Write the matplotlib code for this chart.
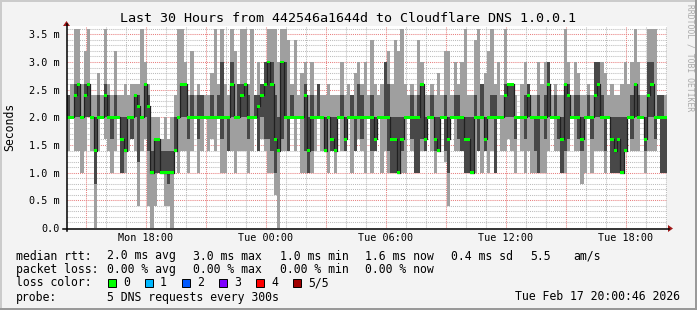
import matplotlib
matplotlib.use('Agg')
import matplotlib.pyplot as plt
import numpy as np
from matplotlib.lines import Line2D
from matplotlib.patches import Rectangle, Polygon

W, H = 697, 310
DPI = 100

# ---------------- data (milliseconds), 10-minute bins over the last 30 hours -------------
start_hour = 14.05          # hours since Mon 00:00 at left edge of plot
bin_hours = 1.0 / 6.0

ping1 = [1.4,2.0,1.4,1.4,1.0,1.4,2.0,1.4,0.0,1.4, 2.0,1.6,1.4,1.0,1.4,2.0,1.0,1.0,1.4,1.6,
         1.4,0.4,1.4,1.6,0.4,0.0,0.4,1.0,1.0,0.4, 0.4,0.0,1.4,1.0,1.4,1.4,1.0,1.4,2.0,1.0,
         1.4,2.0,1.4,1.6,1.4,2.0,1.0,1.0,1.4,1.4, 1.0,1.4,1.4,1.4,1.0,1.4,2.0,1.4,1.6,1.4,
         1.0,1.0,0.6,0.0,1.4,1.4,1.4,2.0,1.4,2.0, 1.0,1.0,1.0,1.0,1.4,2.0,1.4,1.4,1.0,1.4,
         1.0,2.0,1.4,1.4,2.0,1.0,1.4,1.6,1.4,1.0, 2.0,1.0,1.4,2.0,1.0,1.4,1.0,1.0,1.0,1.0,
         1.0,1.0,2.0,1.4,1.0,1.0,1.4,1.4,2.0,1.4, 1.0,1.4,2.0,1.2,0.4,2.0,1.4,1.4,1.4,1.0,
         1.0,1.0,1.0,1.4,1.0,1.4,1.0,1.4,1.0,2.0, 1.4,1.4,1.6,1.4,1.0,2.0,1.4,1.0,1.4,1.0,
         1.0,1.0,1.0,1.0,1.4,2.0,1.4,1.4,1.0,1.0, 1.4,2.0,1.4,1.4,0.8,1.0,2.0,1.0,1.4,1.4,
         1.4,1.0,2.0,1.0,1.0,1.0,1.0,1.4,2.0,1.4, 1.4,1.4,2.0,1.0,1.4,1.4,1.4,2.0,1.0,1.0]
ping2 = [2.0,2.0,2.0,2.0,2.0,2.0,2.0,2.0,0.8,2.0, 2.0,2.0,2.0,1.6,2.0,2.0,1.0,1.4,2.0,1.6,
         2.0,1.2,2.0,2.0,1.4,1.0,1.0,1.0,1.0,1.0, 0.8,1.0,1.4,2.0,2.0,2.0,1.6,2.0,2.0,1.6,
         2.0,2.0,2.0,2.0,2.0,2.0,1.6,2.0,1.4,2.0, 2.0,2.0,2.0,2.0,1.6,2.0,2.0,1.4,2.0,1.6,
         1.6,1.4,1.0,1.4,1.6,2.0,1.4,2.0,2.0,2.0, 2.0,1.4,1.0,1.4,2.0,2.0,2.0,1.4,2.0,1.4,
         1.4,2.0,2.0,1.4,2.0,2.0,1.4,2.0,1.6,2.0, 2.0,1.4,1.4,2.0,2.0,2.0,1.4,1.0,1.0,1.0,
         1.4,2.0,2.0,1.6,1.0,1.0,1.6,1.4,2.0,2.0, 1.4,1.4,2.0,1.4,1.0,2.0,2.0,1.6,1.4,1.0,
         1.0,1.0,2.0,1.4,2.0,1.4,2.0,2.0,1.0,2.0, 2.0,2.0,2.0,2.0,1.6,2.0,2.0,1.6,2.0,2.0,
         1.4,1.0,2.0,1.6,2.0,2.0,2.0,1.6,1.0,1.4, 1.6,2.0,2.0,1.6,1.4,2.0,2.0,1.6,2.0,2.0,
         2.0,1.4,2.0,1.0,1.0,1.0,1.0,1.4,2.0,1.6, 2.0,2.0,2.0,1.4,2.0,2.0,1.6,2.0,1.0,1.0]
median = [2.0,2.0,2.4,2.6,2.0,2.4,2.6,2.0,1.4,2.0, 2.0,2.4,2.0,2.0,2.0,2.0,1.6,1.4,2.0,2.0,
          2.4,2.2,2.0,2.6,2.2,1.0,1.6,1.6,1.0,1.0, 1.0,1.0,1.4,2.0,2.6,2.6,2.0,2.0,2.0,2.0,
          2.0,2.0,2.0,2.0,2.0,2.0,2.0,2.0,2.0,2.6, 2.0,2.0,2.4,2.6,2.0,2.0,2.0,2.2,2.4,2.6,
          3.0,2.6,1.6,1.4,3.0,2.0,2.0,2.0,2.0,2.0, 2.0,2.4,1.4,2.0,2.0,2.0,2.0,1.4,2.0,1.6,
          1.4,2.0,2.0,1.6,2.0,2.0,2.0,2.0,2.0,2.0, 2.0,2.0,1.6,2.0,2.0,2.0,2.0,1.6,1.6,1.0,
          1.6,2.0,2.0,2.0,2.0,2.0,2.6,1.6,2.0,2.0, 1.6,1.4,2.0,2.0,1.6,2.0,2.0,2.0,2.0,1.6,
          1.6,1.0,2.0,2.0,2.0,1.6,2.0,2.0,2.0,2.0, 2.0,2.4,2.6,2.6,2.0,2.0,2.0,2.0,2.4,2.0,
          2.0,2.0,2.0,2.0,2.6,2.0,2.0,2.0,1.6,2.6, 2.4,2.0,2.0,2.0,1.6,2.0,2.0,2.0,2.4,2.6,
          2.0,2.0,2.0,1.6,1.4,1.6,1.0,1.4,2.0,2.0, 2.6,2.0,2.0,1.6,2.4,2.6,2.0,2.0,2.0,2.0]
ping4 = [2.4,2.0,2.6,2.6,2.0,2.6,2.6,2.0,2.0,2.4, 2.0,2.6,2.4,2.0,2.4,2.0,2.0,2.0,2.0,2.0,
         2.4,2.4,2.0,2.6,2.4,1.4,1.6,1.6,1.4,1.4, 1.4,1.4,2.0,2.0,2.6,2.6,2.0,2.4,2.0,2.4,
         2.4,2.0,2.0,2.4,2.0,2.4,3.0,2.0,2.0,3.0, 2.0,2.6,2.6,2.6,2.4,2.0,2.4,2.4,2.6,3.0,
         3.0,3.0,2.4,2.0,3.0,3.0,2.0,2.4,2.0,2.0, 2.0,2.6,2.0,2.4,2.0,2.6,2.0,2.0,2.0,2.0,
         2.0,2.0,2.4,2.0,2.0,2.4,2.0,2.6,2.4,2.0, 2.0,2.4,2.0,2.0,2.0,3.0,2.6,2.0,2.0,2.0,
         2.0,2.0,2.0,2.4,2.0,2.4,2.6,2.0,2.0,2.4, 2.0,2.0,2.0,2.4,2.0,2.0,2.4,2.4,2.0,2.0,
         2.0,2.0,2.4,2.0,2.6,2.0,2.0,2.4,2.4,2.0, 2.0,2.6,2.6,2.6,2.0,2.0,2.0,2.4,2.6,2.0,
         2.0,2.4,2.0,2.4,3.0,2.0,2.4,2.0,2.0,2.6, 2.6,2.0,2.4,2.4,2.0,2.0,2.4,2.0,3.0,3.0,
         2.4,2.0,2.0,2.0,2.0,2.0,2.0,2.0,2.0,2.4, 2.6,2.4,2.0,2.0,3.0,3.0,2.0,2.4,2.4,2.0]
ping5 = [2.4,2.6,3.6,3.6,2.6,3.2,3.6,2.4,2.4,2.8, 2.4,3.6,2.6,2.4,3.2,2.4,2.4,2.6,2.4,2.6,
         2.6,2.6,3.6,3.0,2.6,2.0,2.0,2.0,1.6,2.0, 1.6,2.0,2.4,3.6,3.6,3.0,2.4,3.2,2.4,2.6,
         2.4,2.4,2.4,2.8,3.6,2.6,3.6,2.6,2.4,3.6, 3.2,2.6,3.6,3.6,2.6,3.6,2.4,3.0,2.6,3.0,
         3.6,3.6,3.6,3.0,3.6,3.6,3.4,2.6,3.4,2.4, 2.8,3.0,2.4,3.0,2.4,2.6,2.4,2.4,2.6,2.4,
         2.4,2.4,3.0,2.4,2.6,2.4,2.8,3.0,2.6,3.0, 2.4,3.4,2.6,2.4,2.6,3.0,3.2,2.6,3.4,3.2,
         3.6,2.6,2.4,2.6,2.4,3.4,3.0,2.4,2.4,2.6, 2.4,2.8,2.4,3.2,3.2,2.4,3.0,2.6,3.0,3.6,
         2.4,2.4,3.4,3.6,2.6,2.8,3.2,3.6,2.6,3.0, 2.4,3.6,2.6,2.6,2.4,2.0,2.6,3.0,2.6,2.4,
         2.4,3.0,2.6,3.0,3.0,2.4,2.6,2.4,2.4,3.6, 3.0,2.4,3.0,2.8,2.4,2.4,2.6,2.4,3.0,3.0,
         3.0,2.8,2.4,2.6,2.4,2.4,2.6,3.0,2.6,3.0, 3.6,3.0,2.4,2.4,3.6,3.6,3.6,2.4,2.4,2.4]

y_ticks = [0.0, 0.5, 1.0, 1.5, 2.0, 2.5, 3.0, 3.5]
y_tick_labels = ['0.0', '0.5 m', '1.0 m', '1.5 m', '2.0 m', '2.5 m', '3.0 m', '3.5 m']
x_tick_hours = [18, 24, 30, 36, 42]
x_tick_labels = ['Mon 18:00', 'Tue 00:00', 'Tue 06:00', 'Tue 12:00', 'Tue 18:00']

title = 'Last 30 Hours from 442546a1644d to Cloudflare DNS 1.0.0.1'
rtt_label = 'median rtt:'
rtt_items = ['2.0 ms avg', '3.0 ms max', '1.0 ms min', '1.6 ms now', '0.4 ms sd', '5.5', 'am/s']
loss_label = 'packet loss:'
loss_items = ['0.00 % avg', '0.00 % max', '0.00 % min', '0.00 % now']
color_label = 'loss color:'
loss_names = ['0', '1', '2', '3', '4', '5/5']
loss_colors = ['#00ff00', '#00b8ff', '#0059ff', '#7e00ff', '#ff0000', '#a00000']
probe_label = 'probe:'
probe_text = '5 DNS requests every 300s'
stamp = 'Tue Feb 17 20:00:46 2026'

# ---------------- figure ----------------
MONO = 'DejaVu Sans Mono'
fig = plt.figure(figsize=(W / DPI, H / DPI), dpi=DPI)
fig.patch.set_facecolor('#f3f3f3')

def fx(x):
    return x / W

def fy(y):
    return 1 - y / H

# frame shading
fig.add_artist(Rectangle((0, 0), 2 / W, 1, transform=fig.transFigure, color='#cbcbcb', lw=0))
fig.add_artist(Rectangle((0, 1 - 2 / H), 1, 2 / H, transform=fig.transFigure, color='#cbcbcb', lw=0))
fig.add_artist(Rectangle((1 - 2 / W, 0), 2 / W, 1, transform=fig.transFigure, color='#999999', lw=0))
fig.add_artist(Rectangle((0, 0), 1, 2 / H, transform=fig.transFigure, color='#999999', lw=0))

PX_L, PX_R, PX_T, PX_B = 67, 667, 26, 228
ax = fig.add_axes([fx(PX_L), fy(PX_B), (PX_R - PX_L) / W, (PX_B - PX_T) / H])
ax.set_facecolor('white')
x0 = start_hour
x1 = start_hour + 30
ax.set_xlim(x0, x1)
ymax = 3.65
ax.set_ylim(0, ymax)
for s in ax.spines.values():
    s.set_visible(False)

n = len(median)
xs = [start_hour + i * bin_hours for i in range(n)]

# grid
for v in np.arange(0.1, ymax, 0.1):
    major = abs(v / 0.5 - round(v / 0.5)) < 1e-6
    ax.axhline(v, color=('#e88080' if major else '#bcbcbc'), lw=0.75,
               ls=(0, (1, 1)), zorder=0.5)
h = int(np.ceil(x0))
while h < x1:
    major = (h % 3 == 0)
    ax.axvline(h, color=('#e88080' if major else '#bcbcbc'), lw=0.75,
               ls=(0, (1, 1)), zorder=0.5)
    h += 1

# smoke
ax.bar(xs, [b - a for a, b in zip(ping1, ping5)], bottom=ping1, width=bin_hours, align='edge',
       color='#9f9f9f', linewidth=0, zorder=1)
ax.bar(xs, [b - a for a, b in zip(ping2, ping4)], bottom=ping2, width=bin_hours, align='edge',
       color='#484848', linewidth=0, zorder=2)

# median: thin dark line + green dashes
mx = xs + [xs[-1] + bin_hours]
my = median + [median[-1]]
ax.step(mx, my, where='post', color='#202020', lw=0.9, zorder=4)
hw = 1.4 / 55.34
ax.bar(xs, [2 * hw] * n, bottom=[m - hw for m in median], width=bin_hours, align='edge',
       color='#00ff00', linewidth=0, zorder=5)

# ticks
ax.set_yticks(y_ticks)
ax.set_yticklabels(y_tick_labels, fontfamily=MONO, fontsize=7.3)
ax.set_xticks(x_tick_hours)
ax.set_xticklabels(x_tick_labels, fontfamily=MONO, fontsize=7.3)
ax.tick_params(axis='y', length=0, pad=5.5)
ax.tick_params(axis='x', length=0, pad=3.5)

# axes lines and arrows
fig.add_artist(Line2D([fx(63), fx(669)], [fy(228.5), fy(228.5)], transform=fig.transFigure,
                      color='black', lw=1.1))
fig.add_artist(Line2D([fx(66.5), fx(66.5)], [fy(231), fy(24)], transform=fig.transFigure,
                      color='black', lw=1.1))
fig.add_artist(Polygon([[fx(668), fy(225)], [fx(668), fy(232)], [fx(673), fy(228.5)]],
                       closed=True, transform=fig.transFigure, color='#a01818', lw=0))
fig.add_artist(Polygon([[fx(63), fy(26)], [fx(70), fy(26)], [fx(66.5), fy(21)]],
                       closed=True, transform=fig.transFigure, color='#a01818', lw=0))

# texts
fig.text(fx(348.5), fy(19), title, ha='center', va='center', fontfamily=MONO, fontsize=9.6,
         color='black')
fig.text(fx(10), fy(127), 'Seconds', ha='center', va='center', rotation=90, fontfamily=MONO,
         fontsize=8.3)
fig.text(fx(690), fy(4), 'RRDTOOL / TOBI OETIKER', ha='center', va='top', rotation=270,
         fontfamily=MONO, fontsize=5.8, color='#aaaaaa')

LF = 8.3
row_y = [256, 269.5, 283, 297]
fig.text(fx(16), fy(row_y[0]), rtt_label, va='center', fontfamily=MONO, fontsize=LF)
for xp, t in zip([107, 193, 280, 365, 451, 530, 573], rtt_items):
    fig.text(fx(xp), fy(row_y[0]), t, va='center', fontfamily=MONO, fontsize=LF)
fig.text(fx(16), fy(row_y[1]), loss_label, va='center', fontfamily=MONO, fontsize=LF)
for xp, t in zip([107, 193, 280, 365], loss_items):
    fig.text(fx(xp), fy(row_y[1]), t, va='center', fontfamily=MONO, fontsize=LF)
fig.text(fx(16), fy(row_y[2]), color_label, va='center', fontfamily=MONO, fontsize=LF)
for bx, name, col in zip([108, 145, 182, 219, 256, 293], loss_names, loss_colors):
    fig.add_artist(Rectangle((fx(bx), fy(row_y[2] + 4)), 8 / W, 8 / H, transform=fig.transFigure,
                             facecolor=col, edgecolor='black', lw=0.7))
    fig.text(fx(bx + 15), fy(row_y[2]), name, va='center', fontfamily=MONO, fontsize=LF)
fig.text(fx(16), fy(row_y[3]), probe_label, va='center', fontfamily=MONO, fontsize=LF)
fig.text(fx(107), fy(row_y[3]), probe_text, va='center', fontfamily=MONO, fontsize=LF)
fig.text(fx(680), fy(row_y[3]), stamp, va='center', ha='right', fontfamily=MONO, fontsize=LF)

fig.savefig('out.png', dpi=DPI, facecolor=fig.get_facecolor())
